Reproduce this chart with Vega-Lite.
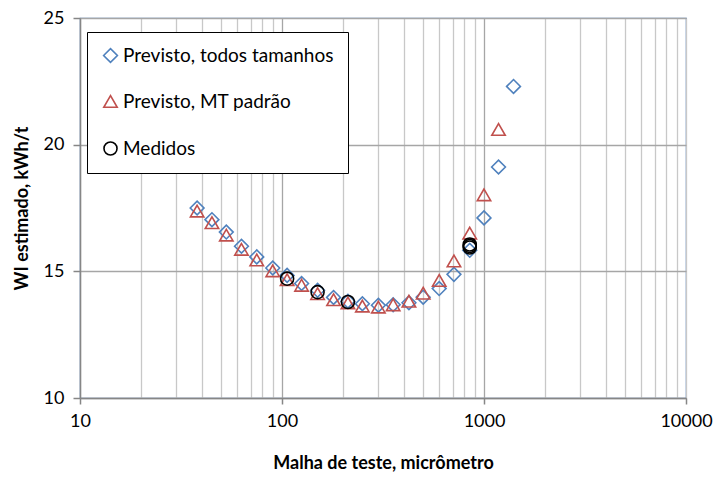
{
  "$schema": "https://vega.github.io/schema/vega-lite/v6.json",
  "autosize": "none",
  "width": 606,
  "height": 380,
  "padding": {"left": 80, "top": 18, "right": 27, "bottom": 79},
  "background": "white",
  "config": {
    "font": "Lato",
    "view": {"stroke": "#4F81BD", "strokeWidth": 1.2}
  },
  "data": {
    "values": [
      {"malha": 38, "wi": 17.50, "serie": "Previsto, todos tamanhos"},
      {"malha": 45, "wi": 17.04, "serie": "Previsto, todos tamanhos"},
      {"malha": 53, "wi": 16.55, "serie": "Previsto, todos tamanhos"},
      {"malha": 63, "wi": 15.99, "serie": "Previsto, todos tamanhos"},
      {"malha": 75, "wi": 15.57, "serie": "Previsto, todos tamanhos"},
      {"malha": 90, "wi": 15.13, "serie": "Previsto, todos tamanhos"},
      {"malha": 106, "wi": 14.84, "serie": "Previsto, todos tamanhos"},
      {"malha": 125, "wi": 14.52, "serie": "Previsto, todos tamanhos"},
      {"malha": 150, "wi": 14.25, "serie": "Previsto, todos tamanhos"},
      {"malha": 180, "wi": 13.97, "serie": "Previsto, todos tamanhos"},
      {"malha": 212, "wi": 13.82, "serie": "Previsto, todos tamanhos"},
      {"malha": 250, "wi": 13.72, "serie": "Previsto, todos tamanhos"},
      {"malha": 300, "wi": 13.66, "serie": "Previsto, todos tamanhos"},
      {"malha": 355, "wi": 13.68, "serie": "Previsto, todos tamanhos"},
      {"malha": 425, "wi": 13.76, "serie": "Previsto, todos tamanhos"},
      {"malha": 500, "wi": 13.98, "serie": "Previsto, todos tamanhos"},
      {"malha": 600, "wi": 14.32, "serie": "Previsto, todos tamanhos"},
      {"malha": 710, "wi": 14.88, "serie": "Previsto, todos tamanhos"},
      {"malha": 850, "wi": 15.83, "serie": "Previsto, todos tamanhos"},
      {"malha": 1000, "wi": 17.11, "serie": "Previsto, todos tamanhos"},
      {"malha": 1180, "wi": 19.12, "serie": "Previsto, todos tamanhos"},
      {"malha": 1400, "wi": 22.3, "serie": "Previsto, todos tamanhos"},
      {"malha": 38, "wi": 17.38, "serie": "Previsto, MT padrão"},
      {"malha": 45, "wi": 16.92, "serie": "Previsto, MT padrão"},
      {"malha": 53, "wi": 16.43, "serie": "Previsto, MT padrão"},
      {"malha": 63, "wi": 15.87, "serie": "Previsto, MT padrão"},
      {"malha": 75, "wi": 15.45, "serie": "Previsto, MT padrão"},
      {"malha": 90, "wi": 15.02, "serie": "Previsto, MT padrão"},
      {"malha": 106, "wi": 14.67, "serie": "Previsto, MT padrão"},
      {"malha": 125, "wi": 14.45, "serie": "Previsto, MT padrão"},
      {"malha": 150, "wi": 14.12, "serie": "Previsto, MT padrão"},
      {"malha": 180, "wi": 13.88, "serie": "Previsto, MT padrão"},
      {"malha": 212, "wi": 13.75, "serie": "Previsto, MT padrão"},
      {"malha": 250, "wi": 13.63, "serie": "Previsto, MT padrão"},
      {"malha": 300, "wi": 13.59, "serie": "Previsto, MT padrão"},
      {"malha": 355, "wi": 13.68, "serie": "Previsto, MT padrão"},
      {"malha": 425, "wi": 13.82, "serie": "Previsto, MT padrão"},
      {"malha": 500, "wi": 14.14, "serie": "Previsto, MT padrão"},
      {"malha": 600, "wi": 14.64, "serie": "Previsto, MT padrão"},
      {"malha": 710, "wi": 15.41, "serie": "Previsto, MT padrão"},
      {"malha": 850, "wi": 16.51, "serie": "Previsto, MT padrão"},
      {"malha": 1000, "wi": 18.02, "serie": "Previsto, MT padrão"},
      {"malha": 1180, "wi": 20.6, "serie": "Previsto, MT padrão"},
      {"malha": 106, "wi": 14.71, "serie": "Medidos"},
      {"malha": 150, "wi": 14.18, "serie": "Medidos"},
      {"malha": 212, "wi": 13.79, "serie": "Medidos"},
      {"malha": 850, "wi": 15.94, "serie": "Medidos"},
      {"malha": 850, "wi": 16.0, "serie": "Medidos"},
      {"malha": 850, "wi": 16.06, "serie": "Medidos"}
    ]
  },
  "mark": {"type": "point", "filled": false, "clip": false, "opacity": 1},
  "encoding": {
    "x": {
      "field": "malha",
      "type": "quantitative",
      "scale": {"type": "log", "domain": [10, 10000], "nice": false},
      "axis": {
        "title": "Malha de teste, micrômetro",
        "titleFont": "Lato",
        "titleFontSize": 18,
        "titleFontWeight": "bold",
        "titleColor": "#000000",
        "titlePadding": 24,
        "values": [10, 20, 30, 40, 50, 60, 70, 80, 90, 100, 200, 300, 400, 500, 600, 700, 800, 900, 1000, 2000, 3000, 4000, 5000, 6000, 7000, 8000, 9000, 10000],
        "labelExpr": "indexof([10,100,1000,10000], round(datum.value)) >= 0 ? format(datum.value, 'd') : ''",
        "labelFont": "Lato",
        "labelFontSize": 18,
        "labelColor": "#000000",
        "labelPadding": 8,
        "labelFlush": false,
        "labelOverlap": false,
        "labelBound": false,
        "tickSize": 6,
        "tickColor": {"condition": {"test": "indexof([10,100,1000,10000], round(datum.value)) >= 0", "value": "#868686"}, "value": "transparent"},
        "tickWidth": 1.5,
        "domainColor": "#868686",
        "domainWidth": 1.5,
        "grid": true,
        "gridColor": {"condition": {"test": "indexof([100,1000], round(datum.value)) >= 0", "value": "#a6a6a6"}, "value": "#c8c8c8"},
        "gridWidth": 1.3
      }
    },
    "y": {
      "field": "wi",
      "type": "quantitative",
      "scale": {"domain": [10, 25], "nice": false, "zero": false},
      "axis": {
        "title": "WI estimado, kWh/t",
        "titleFont": "Lato",
        "titleFontSize": 18,
        "titleFontWeight": "bold",
        "titleColor": "#000000",
        "titlePadding": 12,
        "values": [10, 15, 20, 25],
        "labelFont": "Lato",
        "labelFontSize": 18,
        "labelColor": "#000000",
        "labelPadding": 9,
        "tickSize": 7,
        "tickColor": "#868686",
        "tickWidth": 1.5,
        "domainColor": "#868686",
        "domainWidth": 1.5,
        "grid": true,
        "gridColor": "#a6a6a6",
        "gridWidth": 1.3
      }
    },
    "shape": {
      "field": "serie",
      "type": "nominal",
      "scale": {
        "domain": ["Previsto, todos tamanhos", "Previsto, MT padrão", "Medidos"],
        "range": ["diamond", "triangle-up", "circle"]
      },
      "legend": {
        "title": null,
        "orient": "none",
        "legendX": 7,
        "legendY": 14,
        "direction": "vertical",
        "strokeColor": "#000000",
        "fillColor": "#ffffff",
        "padding": 14,
        "rowPadding": 26,
        "labelFont": "Lato",
        "labelFontSize": 19,
        "labelColor": "#000000",
        "labelLimit": 400,
        "symbolStrokeWidth": 1.5,
        "labelOffset": 3
      }
    },
    "color": {
      "field": "serie",
      "type": "nominal",
      "scale": {
        "domain": ["Previsto, todos tamanhos", "Previsto, MT padrão", "Medidos"],
        "range": ["#4F81BD", "#C0504D", "#000000"]
      }
    },
    "size": {
      "field": "serie",
      "type": "nominal",
      "scale": {
        "domain": ["Previsto, todos tamanhos", "Previsto, MT padrão", "Medidos"],
        "range": [190, 170, 140]
      }
    },
    "strokeWidth": {
      "field": "serie",
      "type": "nominal",
      "scale": {
        "domain": ["Previsto, todos tamanhos", "Previsto, MT padrão", "Medidos"],
        "range": [1.6, 1.6, 2]
      }
    }
  }
}
